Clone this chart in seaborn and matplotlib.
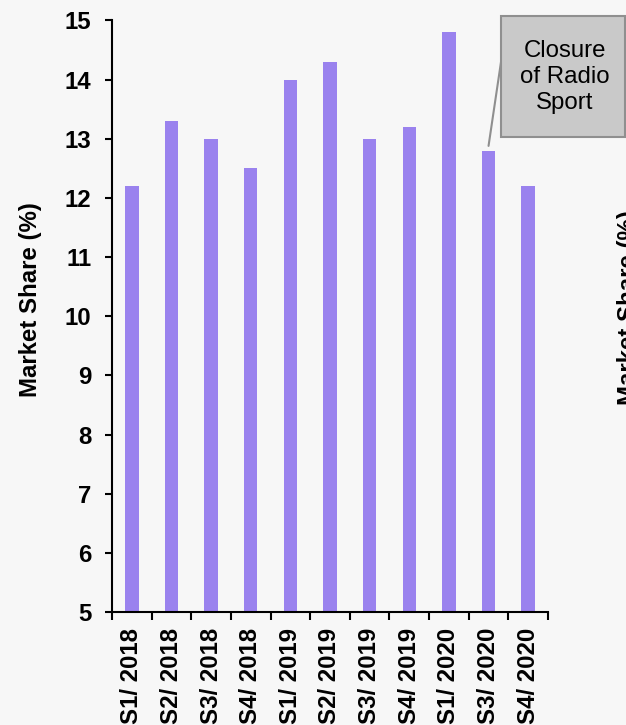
import numpy as np
import pandas as pd
import matplotlib
matplotlib.use("Agg")
import matplotlib.pyplot as plt
from matplotlib.patches import Rectangle
import seaborn as sns

# Quarterly market share
periods = ["S1/ 2018", "S2/ 2018", "S3/ 2018", "S4/ 2018",
           "S1/ 2019", "S2/ 2019", "S3/ 2019", "S4/ 2019",
           "S1/ 2020", "S3/ 2020", "S4/ 2020"]
share = [12.2, 13.3, 13.0, 12.5, 14.0, 14.3, 13.0, 13.2, 14.8, 12.8, 12.2]
y_ticks = [5, 6, 7, 8, 9, 10, 11, 12, 13, 14, 15]
note_text = "Closure\nof Radio\nSport"
note_period = "S3/ 2020"

sns.set_theme(style="white")
plt.rcParams["font.family"] = ["Liberation Sans", "DejaVu Sans"]
plt.rcParams.update({"text.color": "black", "axes.labelcolor": "black",
                     "xtick.color": "black", "ytick.color": "black"})

BG = "#f7f7f7"
BAR = "#9a82ee"
FS = 17.3

W, H = 626, 725
fig = plt.figure(figsize=(W / 100, H / 100), dpi=100, facecolor=BG)
ax = fig.add_axes([112 / W, 1 - 612 / H, 436 / W, (612 - 20.5) / H])
ax.set_facecolor(BG)

df = pd.DataFrame({"period": periods, "share": share})
sns.barplot(data=df, x="period", y="share", color=BAR, saturation=1,
            width=0.34, ax=ax, edgecolor="none")

ax.set_xlim(-0.5, len(periods) - 0.5)
ax.set_ylim(y_ticks[0], y_ticks[-1])
ax.set_yticks(y_ticks)
ax.set_yticklabels([str(t) for t in y_ticks], fontsize=FS, fontweight="bold",
                   color="black")

# category labels at centres, tick marks on category boundaries
ax.set_xticks(np.arange(len(periods)))
ax.set_xticklabels(periods, rotation=90, fontsize=FS, fontweight="bold",
                   color="black")
ax.set_xticks(np.arange(-0.5, len(periods), 1), minor=True)
ax.tick_params(axis="x", which="major", length=0, pad=11.5)
ax.tick_params(axis="x", which="minor", length=6, width=1.5, color="black",
               direction="out", bottom=True)
ax.tick_params(axis="y", which="major", length=5, width=1.5, color="black",
               direction="out", left=True, pad=10)

for side in ("top", "right"):
    ax.spines[side].set_visible(False)
for side in ("left", "bottom"):
    ax.spines[side].set_color("black")
    ax.spines[side].set_linewidth(1.5)

ax.set_xlabel("")
ax.set_ylabel("Market Share (%)", fontsize=FS, fontweight="bold", color="black")
ax.yaxis.set_label_coords((42 - 112) / 436, (612 - 300) / 591.5)

# callout box with leader line
idx = periods.index(note_period)
fig.patches.append(Rectangle((501 / W, 1 - 137 / H), 124 / W, 121 / H,
                             transform=fig.transFigure, facecolor="#c9c9c9",
                             edgecolor="#8f8f8f", linewidth=1.5, zorder=5))
fig.text(565 / W, 1 - 77 / H, note_text, ha="center", va="center",
         fontsize=FS, color="black", linespacing=1.22, zorder=6)
ax.annotate("", xy=(idx, share[idx] + 0.08), xycoords="data",
            xytext=(501 / W, 1 - 62 / H), textcoords="figure fraction",
            arrowprops=dict(arrowstyle="-", color="#8f8f8f", lw=1.5,
                            shrinkA=0, shrinkB=0),
            annotation_clip=False)

# axis title of the neighbouring panel at the right edge
fig.text(617 / W, 1 - 308 / H, "Market Share (%)", rotation=90, ha="left",
         va="center", fontsize=FS, fontweight="bold", color="black")

fig.savefig("out.png", dpi=100, facecolor=BG)
